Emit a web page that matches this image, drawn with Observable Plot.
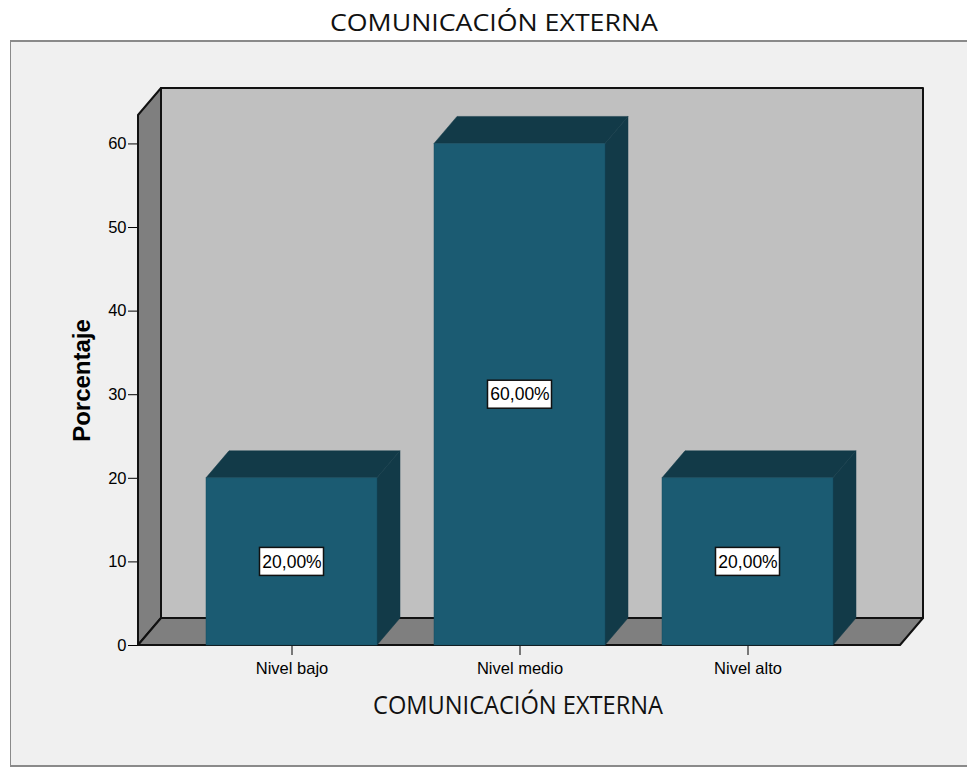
<!DOCTYPE html>
<html>
<head>
<meta charset="utf-8">
<script src="https://cdn.jsdelivr.net/npm/d3@7"></script>
<script src="https://cdn.jsdelivr.net/npm/@observablehq/plot@0.6"></script>
<style>
  html, body { margin: 0; padding: 0; background: #ffffff; }
  #wrap { position: relative; width: 967px; height: 767px; overflow: hidden; }
  #frame { position: absolute; left: 10px; top: 40px; width: 970px; height: 723px;
           background: #f0f0f0; border-top: 2px solid #8a8a8a; border-left: 1px solid #8a8a8a;
           border-bottom: 2px solid #8a8a8a; }
  #chart { position: absolute; left: 0; top: 0; }
</style>
</head>
<body>
<div id="wrap"><div id="frame"></div><div id="chart"></div></div>
<script>
// ---- data ----
const categories = ["Nivel bajo", "Nivel medio", "Nivel alto"];
const percentages = [20, 60, 20];
const barLabels = ["20,00%", "60,00%", "20,00%"];
const yTicks = [0, 10, 20, 30, 40, 50, 60];
const chartTitle = "COMUNICACIÓN EXTERNA";
const xTitle = "COMUNICACIÓN EXTERNA";
const yTitle = "Porcentaje";

const rows = categories.map((c, i) => ({category: c, value: percentages[i], label: barLabels[i]}));

// ---- styling constants ----
const DEPTH = [23, -27];
const frontColor = "#1b5b72";
const darkColor = "#123a48";
const wallColor = "#c0c0c0";
const sideWallColor = "#7f7f7f";

const pts = (arr) => arr.map(p => p.join(",")).join(" ");

// walls and floor of the 3D box, from the plot frame
function walls(index, scales, values, dim) {
  const [dx, dy] = DEPTH;
  const L = dim.marginLeft, R = dim.width - dim.marginRight;
  const T = dim.marginTop, B = dim.height - dim.marginBottom;
  const g = d3.create("svg:g").attr("stroke", "#111").attr("stroke-width", 2).attr("stroke-linejoin", "round");
  g.append("polygon").attr("points", pts([[L+dx, T+dy], [R+dx, T+dy], [R+dx, B+dy], [L+dx, B+dy]])).attr("fill", wallColor);
  g.append("polygon").attr("points", pts([[L, B], [L, T], [L+dx, T+dy], [L+dx, B+dy]])).attr("fill", sideWallColor);
  g.append("polygon").attr("points", pts([[L, B], [R, B], [R+dx, B+dy], [L+dx, B+dy]])).attr("fill", sideWallColor);
  return g.node();
}

// top and side faces of the bars, through the plot's scales
function barDepth(index, scales) {
  const {x, y} = scales;
  const [dx, dy] = DEPTH;
  const bw = x.bandwidth();
  const g = d3.create("svg:g").attr("fill", darkColor).attr("stroke", darkColor).attr("stroke-width", 0.5);
  rows.forEach(r => {
    const x0 = x(r.category), x1 = x0 + bw;
    const yv = y(r.value), y0 = y(0);
    g.append("polygon").attr("points", pts([[x1, y0], [x1, yv], [x1+dx, yv+dy], [x1+dx, y0+dy]]));
    g.append("polygon").attr("points", pts([[x0, yv], [x1, yv], [x1+dx, yv+dy], [x0+dx, yv+dy]]));
  });
  return g.node();
}

// chart title and x-axis title, fitted to the reference widths
function titles(index, scales, values, dim) {
  const L = dim.marginLeft, R = dim.width - dim.marginRight;
  const T = dim.marginTop, B = dim.height - dim.marginBottom;
  const cx = (L + R) / 2;
  const g = d3.create("svg:g").attr("fill", "#111").attr("text-anchor", "middle")
    .attr("font-family", "'Open Sans', sans-serif");
  g.append("text").attr("x", cx - 25).attr("y", T - 92).attr("dy", "0.36em")
    .attr("font-size", 23).attr("textLength", 328).attr("lengthAdjust", "spacingAndGlyphs")
    .text(chartTitle);
  g.append("text").attr("x", cx - 1).attr("y", B + 60).attr("dy", "0.36em")
    .attr("font-size", 25).attr("textLength", 290).attr("lengthAdjust", "spacingAndGlyphs")
    .text(xTitle);
  return g.node();
}

const chart = Plot.plot({
  width: 967,
  height: 767,
  marginLeft: 138,
  marginRight: 67,
  marginTop: 115,
  marginBottom: 122,
  style: {background: "transparent", color: "#000", fontFamily: "'Liberation Sans', Arial, sans-serif", fontSize: "16.5px", overflow: "visible"},
  x: {type: "band", domain: categories, paddingInner: 0.25, paddingOuter: 0.29, label: null, tickSize: 10, tickPadding: 7},
  y: {domain: [0, 63.4], ticks: yTicks, label: null, tickSize: 10, tickPadding: 2},
  marks: [
    walls,
    barDepth,
    Plot.barY(rows, {x: "category", y1: 0, y2: "value", fill: frontColor, stroke: "#164d60", strokeWidth: 0.5}),
    Plot.barY(rows, {x: "category", y1: d => d.value / 2, y2: d => d.value / 2,
      insetLeft: 53.5, insetRight: 53.5, insetTop: -14, insetBottom: -14,
      fill: "#ffffff", stroke: "#111", strokeWidth: 1.5}),
    Plot.text(rows, {x: "category", y: d => d.value / 2, text: "label", fontSize: 17.5, fill: "#000"}),
    Plot.text([yTitle], {frameAnchor: "left", textAnchor: "middle", lineAnchor: "middle", dx: -56, rotate: -90, fontSize: 24, fontWeight: "bold", fill: "#000"}),
    titles
  ]
});

document.getElementById("chart").appendChild(chart);
</script>
</body>
</html>
